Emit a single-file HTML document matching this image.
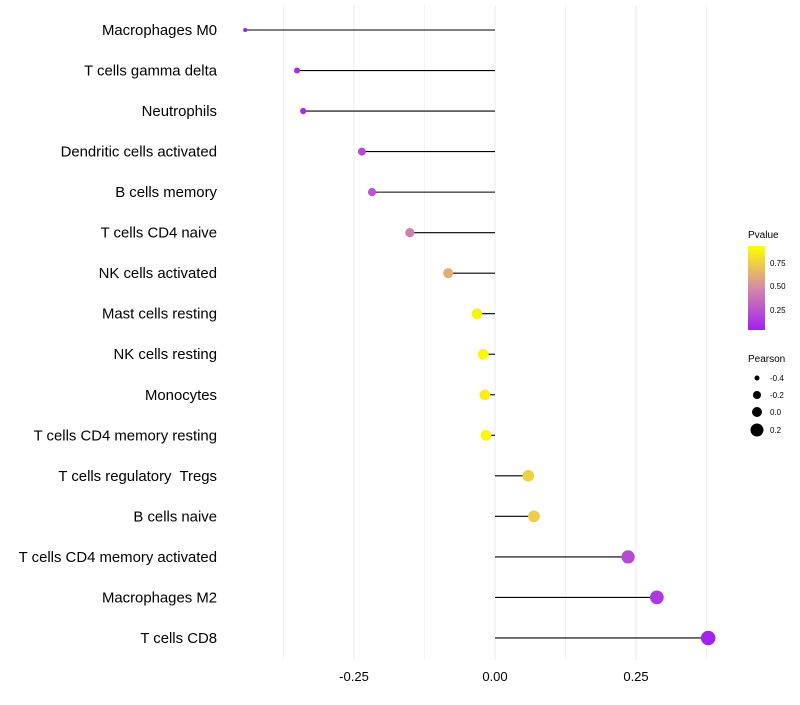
<!DOCTYPE html>
<html><head><meta charset="utf-8"><style>
body{margin:0;background:#fff;font-family:"Liberation Sans",sans-serif;}
text{white-space:pre;}
</style></head><body>
<svg id="chart" width="800" height="700" xmlns="http://www.w3.org/2000/svg" font-family="Liberation Sans, sans-serif">
<defs><linearGradient id="pg" x1="0" y1="1" x2="0" y2="0">
<stop offset="0" stop-color="#A020F0"/><stop offset="0.5" stop-color="#D68AA8"/><stop offset="1" stop-color="#FFFF00"/>
</linearGradient></defs>
<g id="grid"></g><g id="marks"></g><g id="labels"></g>
<g>
<text x="748" y="238" font-size="10" fill="#000">Pvalue</text>
<rect x="748" y="246" width="17" height="84" fill="url(#pg)"/>
<text x="770" y="266" font-size="8">0.75</text>
<text x="770" y="289" font-size="8">0.50</text>
<text x="770" y="313" font-size="8">0.25</text>
</g>
<g>
<text x="748" y="362" font-size="10">Pearson</text>
<circle cx="757" cy="378" r="2.5" fill="#000"/>
<text x="770" y="381" font-size="8">-0.4</text>
<circle cx="757" cy="395" r="4" fill="#000"/>
<text x="770" y="398" font-size="8">-0.2</text>
<circle cx="757" cy="412" r="5" fill="#000"/>
<text x="770" y="415" font-size="8">0.0</text>
<circle cx="757" cy="430" r="6.5" fill="#000"/>
<text x="770" y="433" font-size="8">0.2</text>
</g>
</svg>
<script>
const categories=["Macrophages M0","T cells gamma delta","Neutrophils","Dendritic cells activated","B cells memory","T cells CD4 naive","NK cells activated","Mast cells resting","NK cells resting","Monocytes","T cells CD4 memory resting","T cells regulatory  Tregs","B cells naive","T cells CD4 memory activated","Macrophages M2","T cells CD8"];
const pearson=[-0.443,-0.351,-0.340,-0.236,-0.218,-0.151,-0.083,-0.032,-0.021,-0.018,-0.016,0.059,0.069,0.236,0.287,0.378];
const pvalue=[0.0,0.05,0.05,0.2,0.25,0.45,0.65,0.95,0.97,0.93,0.97,0.8,0.78,0.2,0.12,0.02];
const xTicks=[-0.25,0,0.25];
const xTickLabels=["-0.25","0.00","0.25"];
const xMinor=[-0.375,-0.125,0.125,0.375];
const NS="http://www.w3.org/2000/svg";
const xs=v=>495+v*564;
const ys=i=>30+i*40.53;
const rs=v=>Math.sqrt(Math.max(4,6.25+(v+0.4)*59.6));
function lerp(a,b,t){return a.map((x,i)=>Math.round(x+(b[i]-x)*t));}
function col(p){const c0=[160,32,240],c1=[214,138,168],c2=[255,255,0];
 const c=p<0.5?lerp(c0,c1,p/0.5):lerp(c1,c2,(p-0.5)/0.5);return `rgb(${c.join(',')})`;}
function mk(tag,attrs,parent){const e=document.createElementNS(NS,tag);for(const k in attrs)e.setAttribute(k,attrs[k]);document.getElementById(parent).appendChild(e);return e;}
xMinor.concat(xTicks).forEach(v=>{
 const l=mk('line',{x1:xs(v),x2:xs(v),y1:5,y2:660,stroke:'#ebebeb','stroke-width':xTicks.includes(v)?1:0.6},'grid');
 
 
});
xTicks.forEach((v,i)=>{
 const t=mk('text',{x:xs(v),y:681,'text-anchor':'middle','font-size':13,fill:'#000'},'labels');
 t.textContent=xTickLabels[i];
 
 
});
categories.forEach((c,i)=>{
 const t=mk('text',{x:217,y:ys(i)+5,'text-anchor':'end','font-size':14.9,fill:'#000'},'labels');
 t.textContent=c;
 
 
 const l=mk('line',{x1:xs(0),x2:xs(pearson[i]),y1:ys(i),y2:ys(i),stroke:'#000','stroke-width':1.1},'marks');
 
 
 const p=mk('circle',{cx:xs(pearson[i]),cy:ys(i),r:rs(pearson[i]),fill:col(pvalue[i])},'marks');
 
 
});
</script>
</body></html>
